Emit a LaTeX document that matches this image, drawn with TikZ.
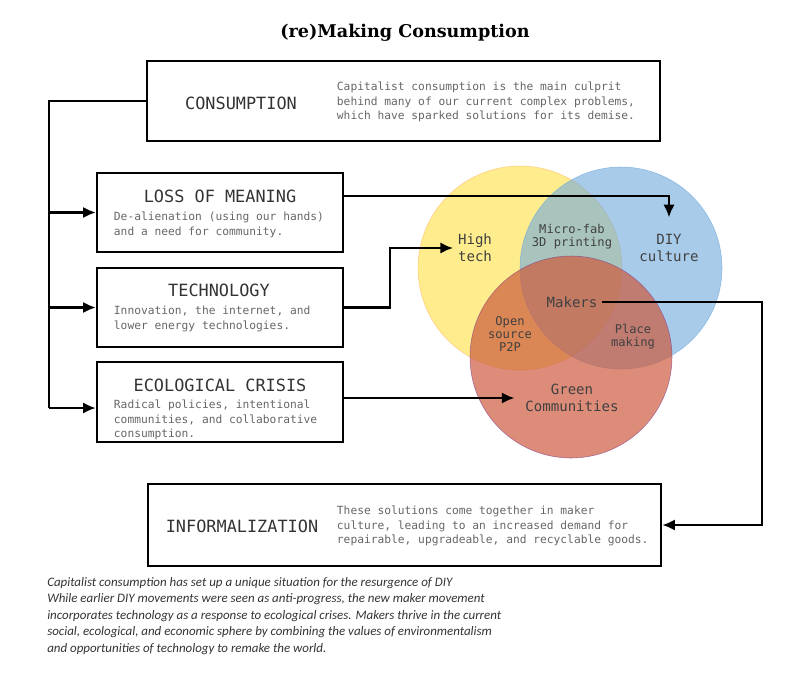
\documentclass[tikz,border=0pt]{standalone}
\usepackage{fontspec}
\setmainfont{Carlito}
\newfontfamily\boxfont{DejaVu Sans Mono}
\newfontfamily\headfont{DejaVu Serif}
\usetikzlibrary{fit,calc,positioning,arrows.meta}
\usepackage{xcolor}
\definecolor{vyellow}{RGB}{255,228,80}
\definecolor{vblue}{RGB}{111,168,220}
\definecolor{vred}{RGB}{205,91,62}

\begin{document}
\begin{tikzpicture}[x=0.025cm,y=-0.025cm,>={Latex[length=9pt,width=8pt]},
    box/.style={draw,line width=1.8pt,inner sep=0pt},
    ttl/.style={text=black!80,font=\boxfont\fontsize{12}{14}\selectfont},
    dsc/.style={text=black!60,anchor=west,align=left,font=\boxfont\fontsize{8}{10.4}\selectfont},
    vlab/.style={text=black!75,align=center,font=\boxfont\fontsize{10}{12}\selectfont},
    vsmall/.style={vlab,font=\boxfont\fontsize{8.6}{9.2}\selectfont},
    arr/.style={line width=1.6pt,->}]

    \useasboundingbox (0,0) rectangle (800,673);

    %title
    \node [font=\headfont\bfseries\fontsize{12.5}{14}\selectfont] (title) at (405,33) {(re)Making Consumption};

    %venn
    \fill [vyellow,fill opacity=0.65] (520,268) circle (102);
    \draw [orange!60,thin,opacity=0.6] (520,268) circle (102);
    \fill [vblue,fill opacity=0.6] (621,268) circle (101);
    \draw [vblue,thin,opacity=0.7] (621,268) circle (101);
    \fill [vred,fill opacity=0.7] (571,357) circle (101);
    \draw [blue!40!vred,thin,opacity=0.6] (571,357) circle (101);

    \node [vlab] (high) at (475,248) {High\\tech};
    \node [vlab] (diy) at (669,248) {DIY\\culture};
    \node [vsmall] (fab) at (572,237) {Micro-fab\\3D printing};
    \node [vlab] (makers) at (572,302) {Makers};
    \node [vsmall] (p2p) at (510,334) {Open\\source\\P2P};
    \node [vsmall] (place) at (633,337) {Place\\making};
    \node [vlab] (green) at (572,398) {Green\\Communities};

    %boxes
    \node [box,fit={(147,61) (660,141)}] (cons) {};
    \node [ttl] (consT) at (241,103) {CONSUMPTION};
    \node [dsc] (consD) at (332,102) {Capitalist consumption is the main culprit\\behind many of our current complex problems,\\which have sparked solutions for its demise.};

    \node [box,fit={(97,173) (343,252)}] (lom) {};
    \node [ttl] (lomT) at (220,196) {LOSS OF MEANING};
    \node [dsc] (lomD) at (109,225) {De-alienation (using our hands)\\and a need for community.};

    \node [box,fit={(97,268) (343,347)}] (tech) {};
    \node [ttl] (techT) at (219,290) {TECHNOLOGY};
    \node [dsc] (techD) at (109,319) {Innovation, the internet, and\\lower energy technologies.};

    \node [box,fit={(97,362) (343,442)}] (eco) {};
    \node [ttl] (ecoT) at (220,385) {ECOLOGICAL CRISIS};
    \node [dsc] (ecoD) at (109,420) {Radical policies, intentional\\communities, and collaborative\\consumption.};

    \node [box,fit={(148,484) (661,566)}] (inf) {};
    \node [ttl] (infT) at (242,526) {INFORMALIZATION};
    \node [dsc] (infD) at (332,526) {These solutions come together in maker\\culture, leading to an increased demand for\\repairable, upgradeable, and recyclable goods.};

    %connectors
    \coordinate (busT) at (49,101);
    \coordinate (busB) at (49,408);
    \draw [line width=1.6pt] (cons.west) -- (busT) -- (busB);
    \draw [arr] (busB) -- (busB -| eco.west);
    \draw [arr] (lom.west -| busT) -- (lom.west);
    \draw [arr] (tech.west -| busT) -- (tech.west);

    \draw [arr] (lomT -| lom.east) -| ([yshift=0.3cm]diy.north);
    \draw [arr] (tech.east) -- ++(46,0) |- (high.west);
    \draw [arr] (eco.east |- green) -- ([xshift=-0.15cm]green.west);
    \coordinate (mkR) at (762,302);
    \draw [arr] (makers.east) -- (mkR) |- (inf.east);

    %caption
    \node [anchor=north west,align=left,inner sep=0pt,text=black!80,
        font=\itshape\fontsize{9.2}{11.7}\selectfont] (note) at (47,577)
        {Capitalist consumption has set up a unique situation for the resurgence of DIY\\
        While earlier DIY movements were seen as anti-progress, the new maker movement\\
        incorporates technology as a response to ecological crises. Makers thrive in the current\\
        social, ecological, and economic sphere by combining the values of environmentalism\\
        and opportunities of technology to remake the world.};
\end{tikzpicture}
\end{document}
